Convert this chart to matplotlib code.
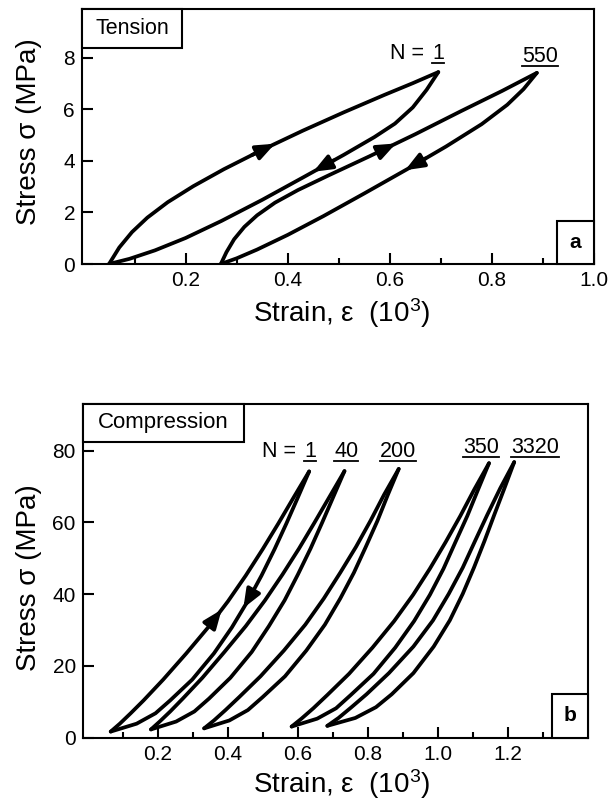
import matplotlib
matplotlib.use('Agg')
import matplotlib.pyplot as plt
from matplotlib.patches import Rectangle
from matplotlib.lines import Line2D

plt.rcParams['font.family'] = ['Liberation Sans', 'DejaVu Sans']
plt.rcParams['mathtext.fontset'] = 'custom'
plt.rcParams['mathtext.rm'] = 'Liberation Sans'
plt.rcParams['mathtext.it'] = 'Liberation Sans:italic'

# ---- (a) tension: strain (1e-3), stress (MPa) ----
t1_load_x = [0.05, 0.07, 0.095, 0.125, 0.165, 0.215, 0.275, 0.35, 0.43, 0.51, 0.59, 0.645, 0.695]
t1_load_y = [0.0, 0.64, 1.24, 1.80, 2.40, 3.02, 3.68, 4.43, 5.18, 5.89, 6.57, 7.02, 7.45]
t1_unld_x = [0.05, 0.09, 0.14, 0.2, 0.27, 0.35, 0.43, 0.51, 0.57, 0.61, 0.645, 0.672, 0.695]
t1_unld_y = [0.0, 0.20, 0.53, 1.01, 1.67, 2.49, 3.36, 4.24, 4.93, 5.45, 6.08, 6.76, 7.45]
t550_load_x = [0.269, 0.28, 0.295, 0.315, 0.34, 0.375, 0.42, 0.48, 0.56, 0.65, 0.74, 0.82, 0.888]
t550_load_y = [0.0, 0.46, 0.96, 1.44, 1.89, 2.38, 2.87, 3.44, 4.18, 5.04, 5.94, 6.72, 7.42]
t550_unld_x = [0.269, 0.3, 0.34, 0.4, 0.47, 0.55, 0.633, 0.71, 0.78, 0.83, 0.862, 0.888]
t550_unld_y = [0.0, 0.22, 0.56, 1.13, 1.86, 2.74, 3.67, 4.56, 5.43, 6.18, 6.79, 7.42]

# arrow (tail, tip) on the tension loops
t_arrows = [((0.33, 4.23), (0.375, 4.67)),
            ((0.49, 4.02), (0.45, 3.58)),
            ((0.575, 4.32), (0.612, 4.68)),
            ((0.67, 4.10), (0.63, 3.64))]

# ---- (b) compression: one stress list per cycle, strain of loading / unloading branch ----
c1_s = [1.7, 3.9, 6.8, 10.4, 16.2, 23.5, 30.7, 38.0, 45.2, 52.5, 59.7, 67.0, 74.2]
c1_load = [0.066, 0.092, 0.123, 0.160, 0.216, 0.282, 0.344, 0.401, 0.452, 0.500, 0.545, 0.589, 0.633]
c1_unld = [0.066, 0.140, 0.194, 0.236, 0.299, 0.361, 0.412, 0.457, 0.497, 0.534, 0.568, 0.601, 0.633]

c40_s = [2.3, 4.5, 7.3, 10.9, 16.7, 23.9, 31.1, 38.3, 45.5, 52.7, 59.9, 67.1, 74.3]
c40_load = [0.181, 0.206, 0.236, 0.272, 0.328, 0.391, 0.452, 0.507, 0.557, 0.604, 0.648, 0.691, 0.734]
c40_unld = [0.181, 0.253, 0.305, 0.347, 0.408, 0.469, 0.518, 0.563, 0.601, 0.637, 0.670, 0.702, 0.734]

c200_s = [2.6, 4.8, 7.7, 11.3, 17.1, 24.3, 31.5, 38.8, 46.0, 53.2, 60.4, 67.7, 74.9]
c200_load = [0.333, 0.361, 0.394, 0.433, 0.494, 0.561, 0.622, 0.675, 0.722, 0.767, 0.808, 0.847, 0.889]
c200_unld = [0.333, 0.405, 0.458, 0.500, 0.564, 0.625, 0.678, 0.722, 0.761, 0.795, 0.828, 0.858, 0.889]

c350_s = [3.1, 5.3, 8.2, 11.9, 17.8, 25.1, 32.5, 39.8, 47.1, 54.5, 61.8, 69.2, 76.5]
c350_load = [0.583, 0.611, 0.645, 0.685, 0.747, 0.814, 0.876, 0.930, 0.978, 1.023, 1.065, 1.105, 1.147]
c350_unld = [0.583, 0.656, 0.710, 0.752, 0.817, 0.879, 0.933, 0.978, 1.017, 1.051, 1.085, 1.116, 1.147]

c3320_s = [3.3, 5.5, 8.5, 12.1, 18.0, 25.4, 32.7, 40.1, 47.4, 54.8, 62.1, 69.5, 76.8]
c3320_load = [0.685, 0.717, 0.754, 0.797, 0.861, 0.931, 0.987, 1.032, 1.072, 1.107, 1.142, 1.179, 1.219]
c3320_unld = [0.685, 0.765, 0.824, 0.869, 0.931, 0.989, 1.035, 1.072, 1.104, 1.134, 1.162, 1.191, 1.219]

c_arrows = [((0.355, 32.1), (0.383, 35.7)),
            ((0.47, 40.3), (0.445, 36.1))]

t_xticks = [0.2, 0.4, 0.6, 0.8, 1.0]
t_yticks = [0, 2, 4, 6, 8]
c_xticks = [0.2, 0.4, 0.6, 0.8, 1.0, 1.2]
c_yticks = [0, 20, 40, 60, 80]

LW = 2.7

fig = plt.figure(figsize=(6.16, 8), dpi=100)
ax1 = fig.add_axes([0.1331, 0.67, 0.8312, 0.31875])
ax2 = fig.add_axes([0.1343, 0.0779, 0.8203, 0.4171])


def style(ax, xt, yt, xminor):
    for s in ax.spines.values():
        s.set_linewidth(1.5)
    ax.set_xticks(xt)
    ax.set_xticks(xminor, minor=True)
    ax.set_yticks(yt)
    ax.tick_params(axis='both', which='both', direction='in', width=1.5,
                   top=False, right=False, labelsize=15, pad=5)
    ax.tick_params(which='major', length=8)
    ax.tick_params(which='minor', length=4)
    ax.xaxis.set_major_formatter(matplotlib.ticker.FormatStrFormatter('%.1f'))


def corner_box(ax, x0, y0, w, h, label, **kw):
    ax.add_patch(Rectangle((x0, y0), w, h, transform=ax.transAxes,
                           facecolor='white', edgecolor='k', lw=1.5, zorder=5, clip_on=False))
    ax.text(x0 + w / 2, y0 + h / 2, label, transform=ax.transAxes,
            ha='center', va='center', zorder=6, **kw)


def arrows(ax, lst):
    for tail, tip in lst:
        ax.annotate('', xy=tip, xytext=tail,
                    arrowprops=dict(arrowstyle='-|>,head_length=0.7,head_width=0.28',
                                    color='k', lw=LW, shrinkA=0, shrinkB=0,
                                    mutation_scale=16))


def curve(ax, x, y):
    ax.plot(x, y, color='k', lw=LW, solid_joinstyle='round', solid_capstyle='round')


# (a) tension
curve(ax1, t1_load_x, t1_load_y)
curve(ax1, t1_unld_x, t1_unld_y)
curve(ax1, t550_load_x, t550_load_y)
curve(ax1, t550_unld_x, t550_unld_y)
arrows(ax1, t_arrows)
ax1.set_xlim(-0.003, 1.0)
ax1.set_ylim(0, 9.9)
style(ax1, t_xticks, t_yticks, [0.1, 0.3, 0.5, 0.7, 0.9])
ax1.set_xlabel(r'Strain, ε  (10$^{3}$)', fontsize=20)
ax1.set_ylabel('Stress σ (MPa)', fontsize=20)
ax1.xaxis.set_label_coords(0.507, -0.125)
ax1.yaxis.set_label_coords(-0.078, 0.52)
corner_box(ax1, 0, 0.848, 0.196, 0.152, 'Tension', fontsize=15.5)
corner_box(ax1, 0.928, 0, 0.072, 0.169, 'a', fontsize=15, fontweight='bold')

# (b) compression
for s, ld, ul in [(c1_s, c1_load, c1_unld), (c40_s, c40_load, c40_unld),
                  (c200_s, c200_load, c200_unld), (c350_s, c350_load, c350_unld),
                  (c3320_s, c3320_load, c3320_unld)]:
    curve(ax2, ld, s)
    curve(ax2, ul, s)
arrows(ax2, c_arrows)
ax2.set_xlim(-0.014, 1.43)
ax2.set_ylim(0, 93)
style(ax2, c_xticks, c_yticks, [0.1, 0.3, 0.5, 0.7, 0.9, 1.1, 1.3])
ax2.set_xlabel(r'Strain, ε  (10$^{3}$)', fontsize=20)
ax2.set_ylabel('Stress σ (MPa)', fontsize=20)
ax2.xaxis.set_label_coords(0.5126, -0.087)
ax2.yaxis.set_label_coords(-0.0805, 0.48)
corner_box(ax2, 0, 0.887, 0.32, 0.113, 'Compression', fontsize=16)
corner_box(ax2, 0.928, 0, 0.072, 0.131, 'b', fontsize=15, fontweight='bold')

# cycle labels (N), underlined numbers
under = []
ax1.text(0.695 - 0.017, 7.95, 'N = ', ha='right', va='baseline', fontsize=15.5)
under.append(ax1.text(0.695, 7.95, '1', ha='center', va='baseline', fontsize=15.5))
under.append(ax1.text(0.895, 7.84, '550', ha='center', va='baseline', fontsize=15.5))
ax2.text(0.635 - 0.022, 78.3, 'N = ', ha='right', va='baseline', fontsize=15.5)
under.append(ax2.text(0.635, 78.3, '1', ha='center', va='baseline', fontsize=15.5))
under.append(ax2.text(0.739, 78.3, '40', ha='center', va='baseline', fontsize=15.5))
under.append(ax2.text(0.887, 78.3, '200', ha='center', va='baseline', fontsize=15.5))
under.append(ax2.text(1.125, 79.3, '350', ha='center', va='baseline', fontsize=15.5))
under.append(ax2.text(1.278, 79.3, '3320', ha='center', va='baseline', fontsize=15.5))

fig.canvas.draw()
inv = fig.transFigure.inverted()
for t in under:
    bb = t.get_window_extent()
    (x0, y0), (x1, _) = inv.transform([[bb.x0, bb.y0 + 1], [bb.x1, bb.y0 + 1]])
    fig.add_artist(Line2D([x0, x1], [y0, y0], color='k', lw=1.3, transform=fig.transFigure))

fig.savefig('out.png', dpi=100)
